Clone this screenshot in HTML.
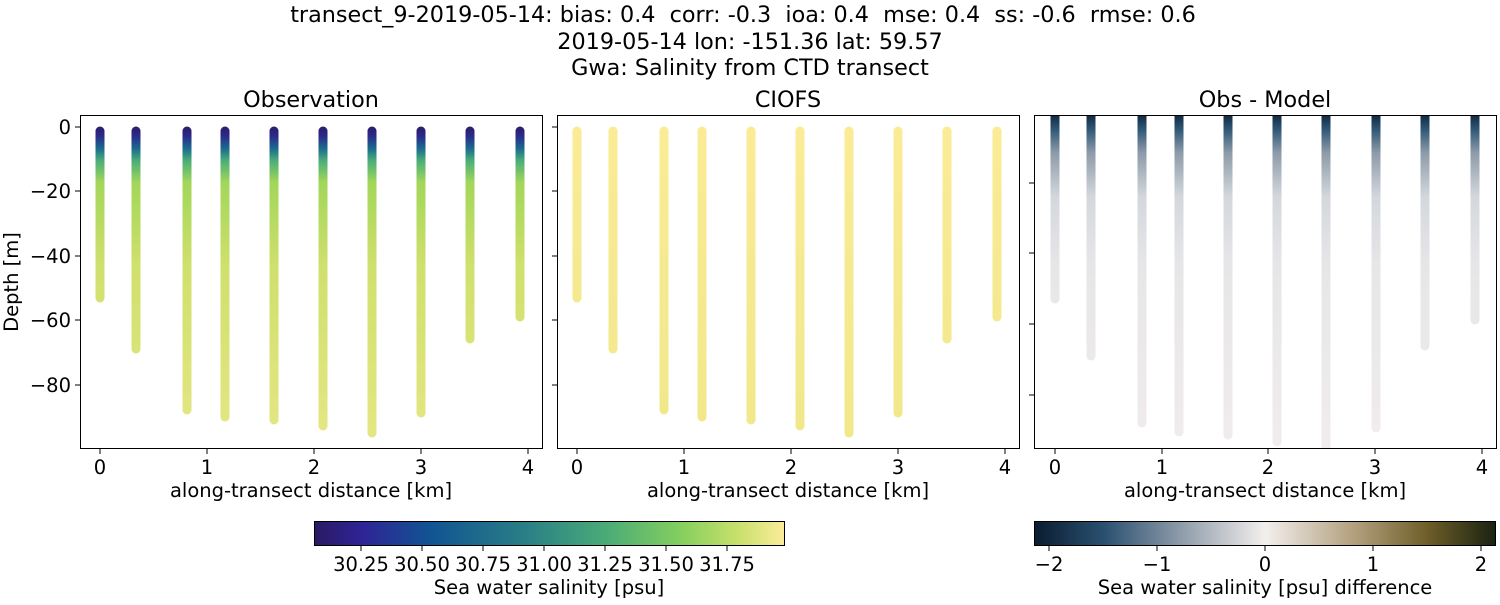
<!DOCTYPE html>
<html><head><meta charset="utf-8"><style>
body{margin:0;background:#fff;}
svg text{font-family:"DejaVu Sans","Liberation Sans",sans-serif;fill:#000;white-space:pre;}
</style></head><body>
<svg width="1500" height="600" xmlns="http://www.w3.org/2000/svg">
<defs>
<linearGradient id="hal" x1="0" x2="1" y1="0" y2="0">
<stop offset="0" stop-color="#2a1a62"/><stop offset="0.1" stop-color="#2f2396"/>
<stop offset="0.25" stop-color="#115592"/><stop offset="0.45" stop-color="#2a7f86"/>
<stop offset="0.62" stop-color="#4aab77"/><stop offset="0.78" stop-color="#85cf5e"/>
<stop offset="0.9" stop-color="#c8e06c"/><stop offset="1" stop-color="#fbec9a"/>
</linearGradient>
<linearGradient id="dif" x1="0" x2="1" y1="0" y2="0">
<stop offset="0" stop-color="#0a1c30"/><stop offset="0.15" stop-color="#2a5070"/>
<stop offset="0.3" stop-color="#8493a3"/><stop offset="0.5" stop-color="#f3efed"/>
<stop offset="0.7" stop-color="#b09d7a"/><stop offset="0.85" stop-color="#6f5f2a"/>
<stop offset="1" stop-color="#192210"/>
</linearGradient>
<linearGradient id="obs" gradientUnits="userSpaceOnUse" x1="0" y1="127" x2="0" y2="434">
<stop offset="0" stop-color="#2c1d6a"/><stop offset="0.03" stop-color="#2a2b8a"/>
<stop offset="0.07" stop-color="#1b6a8e"/><stop offset="0.11" stop-color="#4aae78"/>
<stop offset="0.18" stop-color="#a2d65a"/><stop offset="0.45" stop-color="#cfe06c"/>
<stop offset="1" stop-color="#e4e683"/>
</linearGradient>
<linearGradient id="mod" gradientUnits="userSpaceOnUse" x1="0" y1="127" x2="0" y2="434">
<stop offset="0" stop-color="#fbeb96"/><stop offset="1" stop-color="#f0e88a"/>
</linearGradient>
<linearGradient id="dd" gradientUnits="userSpaceOnUse" x1="0" y1="112" x2="0" y2="450">
<stop offset="0" stop-color="#0a2035"/><stop offset="0.05" stop-color="#2e5675"/>
<stop offset="0.12" stop-color="#8c9aa8"/><stop offset="0.25" stop-color="#d3d7dc"/>
<stop offset="0.45" stop-color="#e6e6e8"/><stop offset="1" stop-color="#f1ecec"/>
</linearGradient>
<clipPath id="c3"><rect x="1034" y="115" width="462" height="333"/></clipPath>
</defs>

<text x="743" y="22" font-size="22.3" text-anchor="middle">transect_9-2019-05-14: bias: 0.4  corr: -0.3  ioa: 0.4  mse: 0.4  ss: -0.6  rmse: 0.6</text>
<text x="750" y="49" font-size="22.3" text-anchor="middle">2019-05-14 lon: -151.36 lat: 59.57</text>
<text x="750" y="75" font-size="22.3" text-anchor="middle">Gwa: Salinity from CTD transect</text>

<text x="311" y="107" font-size="22.3" text-anchor="middle">Observation</text>
<text x="788" y="107" font-size="22.3" text-anchor="middle">CIOFS</text>
<text x="1265" y="107" font-size="22.3" text-anchor="middle">Obs - Model</text>

<g stroke-width="9" stroke-linecap="round" fill="none">
<g stroke="url(#obs)">
<line x1="100" y1="131" x2="100" y2="298"/><line x1="136" y1="131" x2="136" y2="349"/>
<line x1="187" y1="131" x2="187" y2="410"/><line x1="225" y1="131" x2="225" y2="417"/>
<line x1="274" y1="131" x2="274" y2="420"/><line x1="323" y1="131" x2="323" y2="426"/>
<line x1="372" y1="131" x2="372" y2="433"/><line x1="421" y1="131" x2="421" y2="413"/>
<line x1="470" y1="131" x2="470" y2="339"/><line x1="520" y1="131" x2="520" y2="317"/>
</g>
<g stroke="url(#mod)">
<line x1="577" y1="131" x2="577" y2="298"/><line x1="613" y1="131" x2="613" y2="349"/>
<line x1="664" y1="131" x2="664" y2="410"/><line x1="702" y1="131" x2="702" y2="417"/>
<line x1="751" y1="131" x2="751" y2="420"/><line x1="800" y1="131" x2="800" y2="426"/>
<line x1="849" y1="131" x2="849" y2="433"/><line x1="898" y1="131" x2="898" y2="413"/>
<line x1="947" y1="131" x2="947" y2="339"/><line x1="997" y1="131" x2="997" y2="317"/>
</g>
<g stroke="url(#dd)" clip-path="url(#c3)">
<line x1="1055" y1="110" x2="1055" y2="299"/><line x1="1091" y1="110" x2="1091" y2="356"/>
<line x1="1142" y1="110" x2="1142" y2="423"/><line x1="1179" y1="110" x2="1179" y2="432"/>
<line x1="1228" y1="110" x2="1228" y2="435"/><line x1="1277" y1="110" x2="1277" y2="442"/>
<line x1="1326" y1="110" x2="1326" y2="460"/><line x1="1376" y1="110" x2="1376" y2="428"/>
<line x1="1425" y1="110" x2="1425" y2="346"/><line x1="1475" y1="110" x2="1475" y2="320"/>
</g>
</g>

<g fill="none" stroke="#000" stroke-width="1">
<rect x="80.5" y="115.5" width="462" height="333"/>
<rect x="557.5" y="115.5" width="462" height="333"/>
<rect x="1034.5" y="115.5" width="462" height="333"/>
<path d="M100 449v5M207 449v5M314 449v5M421 449v5M528 449v5"/>
<path d="M577 449v5M684 449v5M791 449v5M898 449v5M1005 449v5"/>
<path d="M1055 449v5M1162 449v5M1268 449v5M1375 449v5M1482 449v5"/>
<path d="M80 127h-5M80 191h-5M80 256h-5M80 320h-5M80 385h-5"/>
<path d="M557 127h-5M557 191h-5M557 256h-5M557 320h-5M557 385h-5"/>
<path d="M1034 183h-5M1034 253h-5M1034 324h-5M1034 395h-5"/>
</g>
<g font-size="19.5" text-anchor="end">
<text x="71" y="134">0</text><text x="71" y="198">−20</text><text x="71" y="263">−40</text>
<text x="71" y="327">−60</text><text x="71" y="392">−80</text>
</g>
<text transform="translate(18,282) rotate(-90)" font-size="19.5" text-anchor="middle">Depth [m]</text>
<g font-size="19.5" text-anchor="middle">
<text x="100" y="474">0</text><text x="207" y="474">1</text><text x="314" y="474">2</text><text x="421" y="474">3</text><text x="528" y="474">4</text>
<text x="577" y="474">0</text><text x="684" y="474">1</text><text x="791" y="474">2</text><text x="898" y="474">3</text><text x="1005" y="474">4</text>
<text x="1055" y="474">0</text><text x="1162" y="474">1</text><text x="1268" y="474">2</text><text x="1375" y="474">3</text><text x="1482" y="474">4</text>
<text x="311" y="497">along-transect distance [km]</text>
<text x="788" y="497">along-transect distance [km]</text>
<text x="1265" y="497">along-transect distance [km]</text>
</g>

<rect x="314.5" y="521.5" width="470" height="24" fill="url(#hal)" stroke="#000"/>
<g stroke="#000"><path d="M361 546v5M422 546v5M483 546v5M544 546v5M605 546v5M666 546v5M727 546v5"/></g>
<g font-size="19.5" text-anchor="middle">
<text x="361" y="571">30.25</text><text x="422" y="571">30.50</text><text x="483" y="571">30.75</text>
<text x="544" y="571">31.00</text><text x="605" y="571">31.25</text><text x="666" y="571">31.50</text><text x="727" y="571">31.75</text>
<text x="549" y="594">Sea water salinity [psu]</text>
</g>

<rect x="1034.5" y="521.5" width="461" height="24" fill="url(#dif)" stroke="#000"/>
<g stroke="#000"><path d="M1049 546v5M1157 546v5M1265 546v5M1373 546v5M1481 546v5"/></g>
<g font-size="19.5" text-anchor="middle">
<text x="1049" y="571">−2</text><text x="1157" y="571">−1</text><text x="1265" y="571">0</text>
<text x="1373" y="571">1</text><text x="1481" y="571">2</text>
<text x="1265" y="594">Sea water salinity [psu] difference</text>
</g>
</svg>
</body></html>
